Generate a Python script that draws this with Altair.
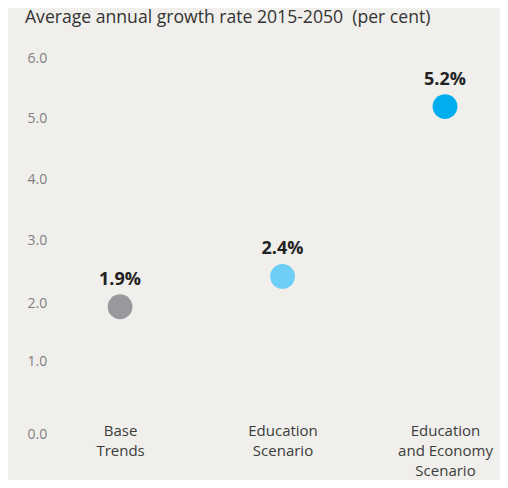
import altair as alt
import pandas as pd

categories = ["Base Trends", "Education Scenario", "Education and Economy Scenario"]
label_lines = [["Base", "Trends"], ["Education", "Scenario"], ["Education", "and Economy", "Scenario"]]
growth = [1.9, 2.4, 5.2]
labels = ["1.9%", "2.4%", "5.2%"]
colors = ["#98999c", "#6dcff6", "#00aeef"]
y_ticks = [0, 1, 2, 3, 4, 5, 6]
title_text = "Average annual growth rate 2015-2050\u00a0 (per cent)"

df = pd.DataFrame({"cat": categories, "growth": growth, "label": labels})

label_expr = " : ".join(
    f"datum.label == '{c}' ? {lines!r}" for c, lines in zip(categories, label_lines)
) + " : datum.label"

FONT = "Open Sans"

x = alt.X("cat:N", sort=categories, title=None,
          scale=alt.Scale(type="point", padding=0.354, align=0.522),
          axis=alt.Axis(labelAngle=0, domain=False, ticks=False, labelExpr=label_expr,
                        labelFont=FONT, labelFontSize=15, labelColor="#3c3c3c",
                        labelLineHeight=20, labelPadding=1, labelBaseline="top"))
y = alt.Y("growth:Q", title=None,
          scale=alt.Scale(domain=[0, 6], nice=False),
          axis=alt.Axis(values=y_ticks, format=".1f", grid=False, domain=False, ticks=False,
                        tickSize=0, labelAlign="left", labelPadding=33,
                        labelOffset={"expr": "datum.value == 0 ? 12 : datum.value == 2 ? 3 : 0"},
                        labelFont=FONT, labelFontSize=14, labelColor="#808080"))

base = alt.Chart(df)
dots = base.mark_circle(size=615, opacity=1).encode(
    x=x, y=y,
    color=alt.Color("cat:N", scale=alt.Scale(domain=categories, range=colors), legend=None),
)
texts = base.mark_text(dy=-22, baseline="alphabetic", fontSize=18, fontWeight="bold", font=FONT,
                       color="#222222").encode(x=x, y=y, text="label:N")

chart = (dots + texts).properties(
    width=440, height=364,
    autosize=alt.AutoSizeParams(type="none"),
    padding={"left": 52, "top": 50, "right": 0, "bottom": 58},
    background="#f0efeb",
    title=alt.TitleParams(title_text, anchor="start", frame="group", dx=-35, offset=24,
                          font=FONT, fontSize=17.6, fontWeight="normal", color="#333333"),
).configure_view(stroke=None)

chart.save("out.html", embed_options={"renderer": "svg", "actions": False})
